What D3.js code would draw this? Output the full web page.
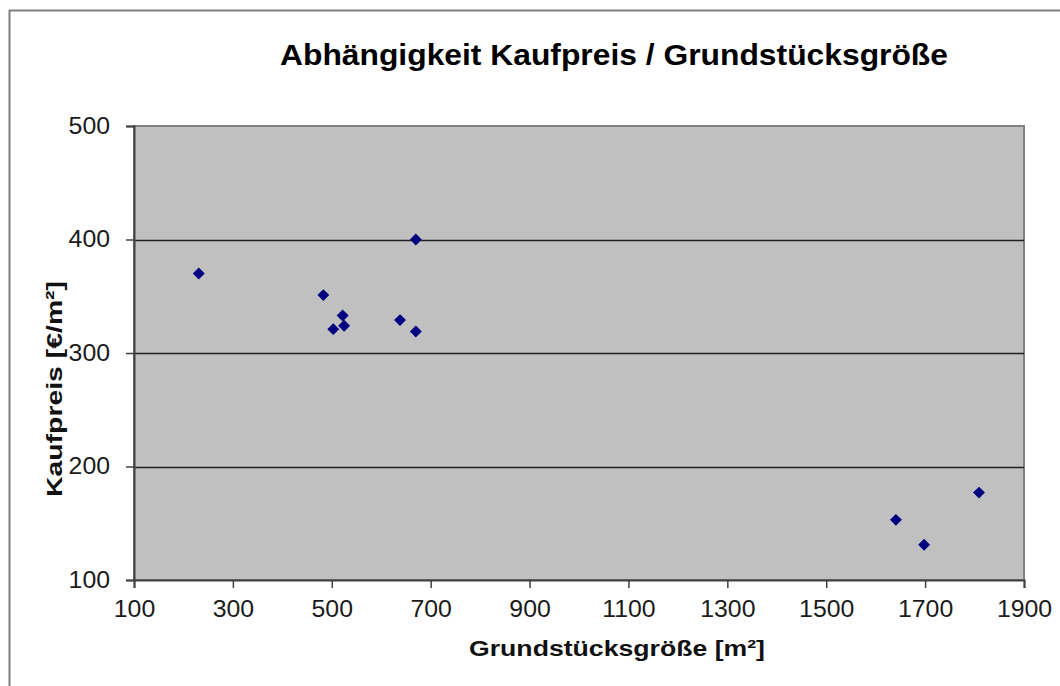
<!DOCTYPE html>
<html>
<head>
<meta charset="utf-8">
<script src="https://cdn.jsdelivr.net/npm/d3@7"></script>
<style>
  body { margin: 0; background: #fff; }
  svg { display: block; font-family: "Liberation Sans", Arial, sans-serif; }
</style>
</head>
<body>
<svg id="chart" width="1060" height="686"></svg>
<script>
// Grundstücksgröße [m²] per sale
const groesse = [231, 483, 522, 503, 525, 638, 670, 670, 1641, 1698, 1809];
// Kaufpreis [€/m²] per sale
const preis = [370, 351, 333, 321, 324, 329, 319, 400, 153, 131, 177];
const xTicks = [100, 300, 500, 700, 900, 1100, 1300, 1500, 1700, 1900];
const yTicks = [100, 200, 300, 400, 500];

const svg = d3.select('#chart');
const plot = {left: 134, right: 1024, top: 126, bottom: 580};

// the picture's text is a bit wider than the fonts here, stretch it
function stretch(sel, factor) {
    sel.each(function() {
        var w = this.getComputedTextLength();
        d3.select(this)
            .attr('textLength', w * factor)
            .attr('lengthAdjust', 'spacingAndGlyphs');
    });
}

// outer chart frame (runs off the right and bottom of the picture)
svg.append('rect')
    .attr('x', 9.5).attr('y', 10.5)
    .attr('width', 1070).attr('height', 700)
    .attr('fill', 'none')
    .attr('stroke', '#808080')
    .attr('stroke-width', 2);

const x = d3.scaleLinear().domain([100, 1900]).range([plot.left, plot.right]);
const y = d3.scaleLinear().domain([100, 500]).range([plot.bottom, plot.top]);

// plot background
svg.append('rect')
    .attr('x', plot.left).attr('y', plot.top)
    .attr('width', plot.right - plot.left)
    .attr('height', plot.bottom - plot.top)
    .attr('fill', '#c0c0c0')
    .attr('stroke', '#808080')
    .attr('stroke-width', 2);

// horizontal gridlines
svg.append('g')
    .selectAll('line')
    .data(yTicks.filter(d => d > 100 && d < 500))
    .enter()
    .append('line')
        .attr('x1', plot.left).attr('x2', plot.right)
        .attr('y1', d => Math.round(y(d)) + 0.5)
        .attr('y2', d => Math.round(y(d)) + 0.5)
        .attr('stroke', '#202020')
        .attr('stroke-width', 1.4);

// axes
const xAxis = d3.axisBottom(x).tickValues(xTicks).tickFormat(d3.format('d'))
    .tickSize(8).tickPadding(13);
const yAxis = d3.axisLeft(y).tickValues(yTicks).tickFormat(d3.format('d'))
    .tickSize(8).tickPadding(16);

const gx = svg.append('g')
    .attr('transform', 'translate(0,' + plot.bottom + ')')
    .call(xAxis);
const gy = svg.append('g')
    .attr('transform', 'translate(' + plot.left + ',0)')
    .call(yAxis);

[gx, gy].forEach(function(g) {
    g.select('.domain').attr('stroke', '#404040').attr('stroke-width', 2);
    g.selectAll('.tick line').attr('stroke', '#404040').attr('stroke-width', 1.5);
    g.selectAll('.tick text')
        .attr('fill', '#1a1a1a')
        .style('font-size', '23px')
        .style('font-family', '"Liberation Sans", Arial, sans-serif');
    stretch(g.selectAll('.tick text'), 1.08);
});

// points (diamonds)
const diamond = d3.symbol().type(d3.symbolDiamond2).size(90);
svg.append('g')
    .selectAll('path')
    .data(groesse.map((g, i) => ({g: g, p: preis[i]})))
    .enter()
    .append('path')
        .attr('d', diamond)
        .attr('transform', d => 'translate(' + x(d.g) + ',' + y(d.p) + ')')
        .attr('fill', '#000080');

// title and axis labels
svg.append('text')
    .attr('x', 614).attr('y', 65)
    .attr('text-anchor', 'middle')
    .style('font-size', '29px')
    .style('font-weight', 'bold')
    .attr('fill', '#000')
    .text('Abhängigkeit Kaufpreis / Grundstücksgröße')
    .attr('textLength', 668)
    .attr('lengthAdjust', 'spacingAndGlyphs');

svg.append('text')
    .attr('x', 617).attr('y', 656)
    .attr('text-anchor', 'middle')
    .style('font-size', '22px')
    .style('font-weight', 'bold')
    .attr('fill', '#111')
    .text('Grundstücksgröße [m²]')
    .attr('textLength', 296)
    .attr('lengthAdjust', 'spacingAndGlyphs');

svg.append('text')
    .attr('transform', 'translate(62,389) rotate(-90)')
    .attr('text-anchor', 'middle')
    .style('font-size', '22px')
    .style('font-weight', 'bold')
    .attr('fill', '#111')
    .text('Kaufpreis [€/m²]')
    .attr('textLength', 216)
    .attr('lengthAdjust', 'spacingAndGlyphs');
</script>
</body>
</html>
